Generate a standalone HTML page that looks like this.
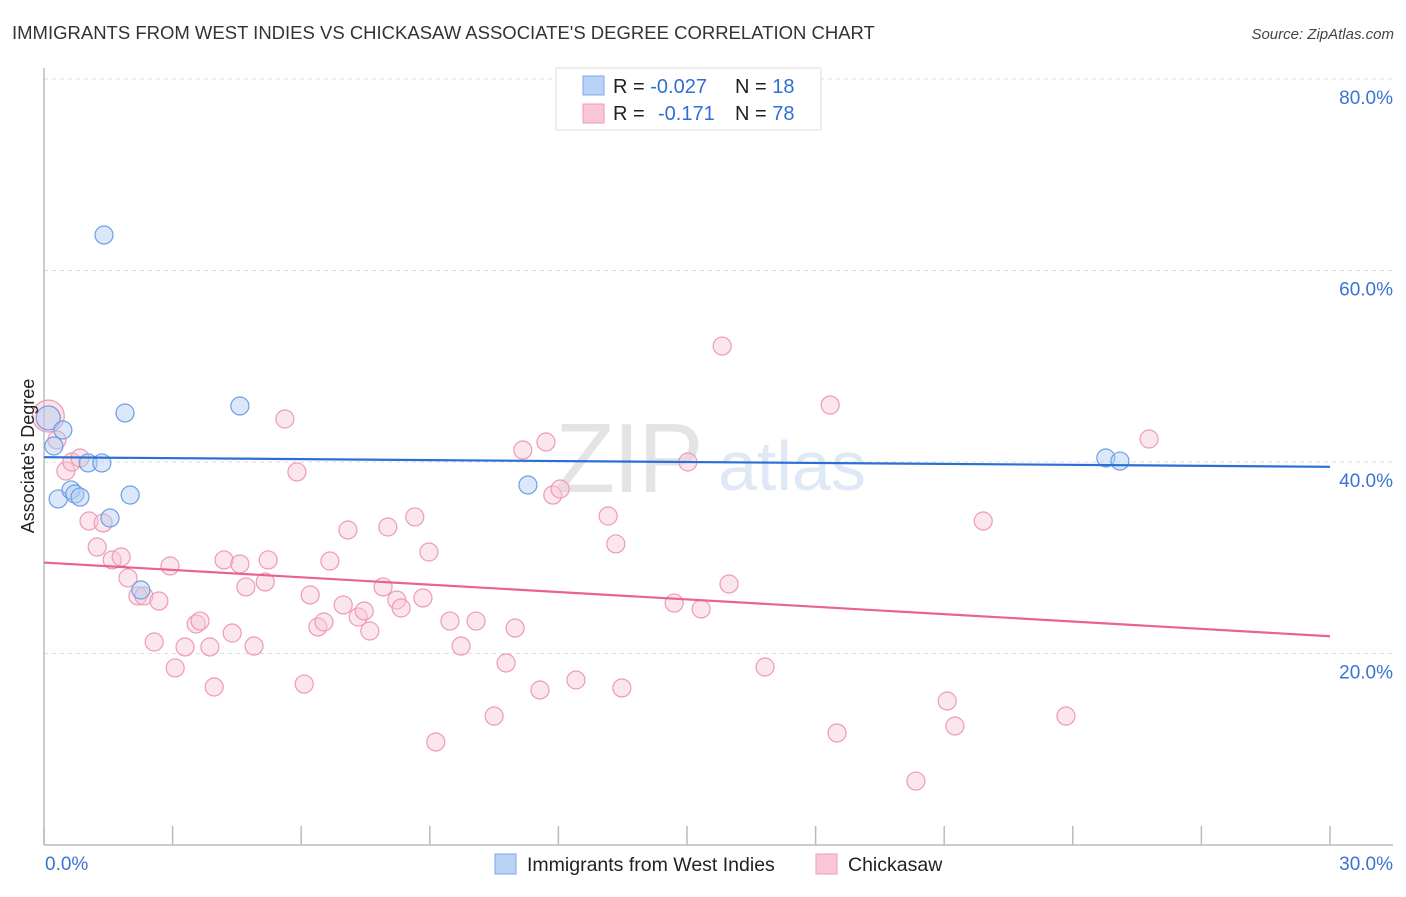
<!DOCTYPE html>
<html><head><meta charset="utf-8">
<style>
body{margin:0;background:#fff;font-family:"Liberation Sans",sans-serif;}
svg text{font-family:"Liberation Sans",sans-serif;}
</style></head>
<body>
<svg id="chart" width="1406" height="892" xmlns="http://www.w3.org/2000/svg">
<text x="12" y="39" font-size="18.5" fill="#333">IMMIGRANTS FROM WEST INDIES VS CHICKASAW ASSOCIATE'S DEGREE CORRELATION CHART</text>
<text x="1394" y="39" font-size="15" fill="#444" text-anchor="end" font-style="italic">Source: ZipAtlas.com</text>
<text x="555" y="492" font-size="98" fill="#e4e4e4" font-family="Liberation Serif" letter-spacing="-2">ZIP</text>
<text x="718" y="490" font-size="70" fill="#dfe8f5">atlas</text>
<g id="grid"></g>
<g id="axes"></g>
<g id="points"></g>
<g id="lines"></g>
<text transform="translate(34,456) rotate(-90)" font-size="18" fill="#222" text-anchor="middle">Associate's Degree</text>
<g>
<rect x="556" y="68" width="265" height="62" fill="#fff" stroke="#ddd"/>
<rect x="583" y="76" width="21" height="19" fill="#b8d3f5" stroke="#7ea8e6"/>
<rect x="583" y="104" width="21" height="19" fill="#f9c6d5" stroke="#ee9ab4"/>
<text x="613" y="93" font-size="20" fill="#222">R = <tspan fill="#2f6fd6">-0.027</tspan><tspan x="735">N = </tspan><tspan fill="#2f6fd6">18</tspan></text>
<text x="613" y="120" font-size="20" fill="#222">R = <tspan x="658" fill="#2f6fd6">-0.171</tspan><tspan x="735">N = </tspan><tspan fill="#2f6fd6">78</tspan></text>
</g>
<g>
<rect x="495" y="854" width="21" height="20" fill="#b8d3f5" stroke="#7ea8e6"/>
<text x="527" y="871" font-size="19.5" fill="#222">Immigrants from West Indies</text>
<rect x="816" y="854" width="21" height="20" fill="#f9c6d5" stroke="#ee9ab4"/>
<text x="848" y="871" font-size="19.5" fill="#222">Chickasaw</text>
</g>
</svg>
<script>
const yTicks=[20,40,60,80];
const yTickLabels=["20.0%","40.0%","60.0%","80.0%"];
const xTicks=[0,3,6,9,12,15,18,21,24,27,30];
const blueTrend=[40.5,39.5];
const pinkTrend=[29.5,21.8];
// points [x%, y%] estimated from image pixels
const bluePx=[[104,235],[125,413],[240,406],[63,430],[54,446],[88,463],[102,463],[58,499],[71,490],[75,494],[80,497],[130,495],[110,518],[141,590],[528,485],[1106,458],[1120,461]];
const pinkPx=[[57,440],[66,471],[72,462],[80,458],[89,521],[97,547],[103,523],[112,560],[121,557],[128,578],[138,596],[144,596],[159,601],[154,642],[170,566],[175,668],[185,647],[196,624],[200,621],[210,647],[214,687],[224,560],[232,633],[240,564],[246,587],[254,646],[265,582],[268,560],[285,419],[297,472],[304,684],[310,595],[318,627],[324,622],[330,561],[343,605],[348,530],[358,617],[364,611],[370,631],[388,527],[383,587],[397,600],[401,608],[415,517],[423,598],[429,552],[436,742],[450,621],[461,646],[476,621],[494,716],[506,663],[515,628],[523,450],[540,690],[546,442],[553,495],[560,489],[576,680],[608,516],[616,544],[622,688],[674,603],[688,462],[701,609],[722,346],[729,584],[765,667],[830,405],[837,733],[916,781],[947,701],[955,726],[983,521],[1066,716],[1149,439]];
const blueX=bluePx.map(p=>+((p[0]-44)/1286*30).toFixed(2));
const blueY=bluePx.map(p=>+((845-p[1])/9.575).toFixed(2));
const pinkX=pinkPx.map(p=>+((p[0]-44)/1286*30).toFixed(2));
const pinkY=pinkPx.map(p=>+((845-p[1])/9.575).toFixed(2));
const bigBlue=[0.1,44.6], bigPink=[0.1,44.8];

const X=v=>44+v/30*1286;
const Y=v=>845-v*9.575;
const NS="http://www.w3.org/2000/svg";
function mk(parent,tag,attrs){const e=document.createElementNS(NS,tag);for(const k in attrs)e.setAttribute(k,attrs[k]);document.getElementById(parent).appendChild(e);return e;}

yTicks.forEach((t,i)=>{
 const g=mk('grid','line',{x1:44,x2:1393,y1:Y(t),y2:Y(t),stroke:'#ddd','stroke-dasharray':'4,4'});
 
 
 const l=mk('axes','text',{x:1393,y:Y(t)+25,'font-size':19,fill:'#3b73d4','text-anchor':'end'});
 l.textContent=yTickLabels[i];
 
 
});
const ax=mk('axes','line',{x1:44,x2:1393,y1:845,y2:845,stroke:'#bbb','stroke-width':1.5});


const ay=mk('axes','line',{x1:44,x2:44,y1:68,y2:845,stroke:'#bbb','stroke-width':1.5});


xTicks.forEach(t=>{
 const k=mk('axes','line',{x1:X(t),x2:X(t),y1:826,y2:845,stroke:'#bbb','stroke-width':1.5});
 
 
});
const x0=mk('axes','text',{x:45,y:870,'font-size':19,fill:'#3b73d4'});x0.textContent='0.0%';


const x1=mk('axes','text',{x:1393,y:870,'font-size':19,fill:'#3b73d4','text-anchor':'end'});x1.textContent='30.0%';



function dot(x,y,r,fill,stroke,name){
 const c=mk('points','circle',{cx:X(x),cy:Y(y),r:r,fill:fill,'fill-opacity':0.45,stroke:stroke,'stroke-width':1.2});
 
 
}
dot(bigPink[0],bigPink[1],16,'#f7c0d0','#ee94b0','chickasaw-point-large');
pinkX.forEach((x,i)=>dot(x,pinkY[i],9,'#f9c8d6','#ee9ab4','chickasaw-point'));
dot(bigBlue[0],bigBlue[1],12,'#b0cdf2','#6f9ee3','west-indies-point-large');
blueX.forEach((x,i)=>dot(x,blueY[i],9,'#b0cdf2','#6f9ee3','west-indies-point'));

const bl=mk('lines','line',{x1:X(0),y1:Y(blueTrend[0]),x2:X(30),y2:Y(blueTrend[1]),stroke:'#2a6fd6','stroke-width':2.2});


const pl=mk('lines','line',{x1:X(0),y1:Y(pinkTrend[0]),x2:X(30),y2:Y(pinkTrend[1]),stroke:'#e8638f','stroke-width':2.2});


</script>
</body></html>
